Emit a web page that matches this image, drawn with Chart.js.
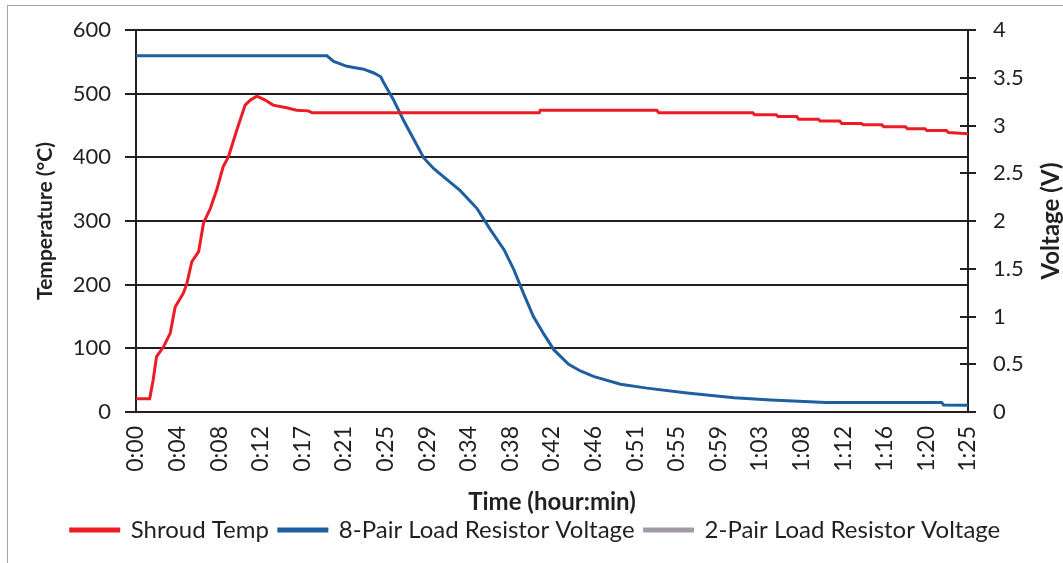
<!DOCTYPE html>
<html>
<head>
<meta charset="utf-8">
<script src="https://cdn.jsdelivr.net/npm/chart.js@4"></script>
<style>
  html, body { margin: 0; padding: 0; background: #fff; }
  #wrap { position: relative; width: 1063px; height: 563px; }
  #frame { position: absolute; left: 7px; top: 5px; width: 1070px; height: 570px; border: 1.5px solid #a6a6a6; box-sizing: border-box; pointer-events: none; }
  canvas { position: absolute; left: 0; top: 0; }
</style>
</head>
<body>
<div id="wrap">
  <canvas id="myChart" width="1063" height="563"></canvas>
  <div id="frame"></div>
</div>
<script>
// time in minutes
const tempTime = [0, 1.4, 1.75, 2.1, 2.8, 3.5, 4.0, 4.85, 5.2, 5.7, 6.4, 6.9, 7.6, 8.25, 8.9, 9.45, 10.3, 11.15, 11.7, 12.35, 13.2, 14.0, 15.4, 16.4, 17.6, 18.0, 41.2, 41.3, 53.2, 53.4, 63.0, 63.2, 65.4, 65.6, 67.5, 67.7, 69.7, 69.9, 71.9, 72.1, 74.1, 74.3, 76.2, 76.4, 78.6, 78.8, 80.6, 80.8, 82.8, 83.0, 85];
const tempValues = [21, 21, 50, 87, 102, 124, 165, 187, 202, 236, 252, 297, 320, 349, 385, 401, 443, 482, 490, 496, 490, 482, 478, 474, 473, 470, 470, 474, 474, 470, 470, 467, 467, 464, 464, 460, 460, 457, 457, 453, 453, 451, 451, 448, 448, 445, 445, 442, 442, 439, 437];

const voltTime = [0, 19.5, 20.2, 21.55, 23.25, 24.3, 25.0, 25.3, 26.3, 27.3, 28.4, 29.4, 30.4, 31.8, 33.1, 34.85, 36.2, 37.6, 38.6, 39.6, 40.6, 41.7, 42.7, 44.2, 45.4, 46.8, 49.5, 52.2, 56.3, 61.1, 64.85, 70.5, 82.3, 82.5, 85];
const voltValues = [3.73, 3.73, 3.67, 3.62, 3.59, 3.55, 3.51, 3.45, 3.27, 3.06, 2.85, 2.66, 2.55, 2.43, 2.32, 2.13, 1.91, 1.70, 1.49, 1.24, 1.00, 0.81, 0.65, 0.50, 0.43, 0.37, 0.29, 0.25, 0.20, 0.15, 0.125, 0.10, 0.10, 0.073, 0.07];

// 2-pair series shows nothing in the plot
const twoPairTime = [];
const twoPairValues = [];

const tickPositions = [0, 4.25, 8.5, 12.75, 17, 21.25, 25.5, 29.75, 34, 38.25, 42.5, 46.75, 51, 55.25, 59.5, 63.75, 68, 72.25, 76.5, 80.75, 85];
const tickLabels = ['0:00', '0:04', '0:08', '0:12', '0:17', '0:21', '0:25', '0:29', '0:34', '0:38', '0:42', '0:46', '0:51', '0:55', '0:59', '1:03', '1:08', '1:12', '1:16', '1:20', '1:25'];

const toPoints = (xs, ys) => xs.map((x, i) => ({ x: x, y: ys[i] }));

const FONT = 'Lato, "Open Sans", sans-serif';
const INK = '#231f20';

// right axis: tick marks crossing the axis, and a title that reads bottom-to-top
const voltExtras = {
  id: 'voltExtras',
  afterDraw(chart) {
    const c = chart.ctx;
    const a = chart.chartArea;
    const s = chart.scales.y2;
    c.save();
    c.strokeStyle = INK;
    c.lineWidth = 2;
    s.ticks.forEach(t => {
      const y = Math.round(s.getPixelForValue(t.value));
      c.beginPath();
      c.moveTo(a.right - 8, y);
      c.lineTo(a.right + 8, y);
      c.stroke();
    });
    c.translate(1051, (a.top + a.bottom) / 2);
    c.rotate(-Math.PI / 2);
    c.font = 'bold 24px ' + FONT;
    c.fillStyle = INK;
    c.textAlign = 'center';
    c.textBaseline = 'middle';
    c.fillText('Voltage (V)', 0, 0);
    c.restore();
  }
};

new Chart(document.getElementById('myChart'), {
  type: 'line',
  data: {
    datasets: [{
      label: 'Shroud Temp',
      data: toPoints(tempTime, tempValues),
      borderColor: '#ed1c24',
      backgroundColor: '#ed1c24',
      borderWidth: 3,
      pointRadius: 0,
      yAxisID: 'y'
    }, {
      label: '8-Pair Load Resistor Voltage',
      data: toPoints(voltTime, voltValues),
      borderColor: '#1f5fa0',
      backgroundColor: '#1f5fa0',
      borderWidth: 3,
      pointRadius: 0,
      yAxisID: 'y2'
    }, {
      label: '2-Pair Load Resistor Voltage',
      data: toPoints(twoPairTime, twoPairValues),
      borderColor: '#a39aa8',
      backgroundColor: '#a39aa8',
      borderWidth: 3,
      pointRadius: 0,
      yAxisID: 'y2'
    }]
  },
  options: {
    responsive: false,
    animation: false,
    layout: { padding: { left: 8, right: 0, top: 30, bottom: 11 } },
    plugins: {
      tooltip: { enabled: false },
      legend: {
        position: 'bottom',
        labels: {
          font: { family: FONT, size: 24 },
          color: INK,
          boxWidth: 48,
          boxHeight: 2,
          padding: 10
        }
      }
    },
    scales: {
      x: {
        type: 'linear',
        min: 0,
        max: 85,
        afterBuildTicks: s => { s.ticks = tickPositions.map(v => ({ value: v })); },
        afterFit: s => { s.height = 96; },
        grid: { display: false },
        border: { display: true, color: INK, width: 2 },
        ticks: {
          autoSkip: false,
          maxRotation: 90,
          minRotation: 90,
          padding: 6,
          color: INK,
          font: { family: FONT, size: 23 },
          callback: (v, i) => tickLabels[i]
        },
        title: {
          display: true,
          text: 'Time (hour:min)',
          color: INK,
          font: { family: FONT, size: 24, weight: 'bold', lineHeight: 0.45 },
          padding: { top: 0, bottom: 0 }
        }
      },
      y: {
        position: 'left',
        min: 0,
        max: 600,
        afterFit: s => { s.width = 128; },
        grid: { color: INK, lineWidth: 2, tickLength: 11 },
        border: { color: INK, width: 2 },
        ticks: {
          stepSize: 100,
          padding: 14,
          color: INK,
          font: { family: FONT, size: 22 }
        },
        title: {
          display: true,
          text: 'Temperature (°C)',
          color: INK,
          font: { family: FONT, size: 21, weight: 'bold' },
          padding: { top: 25, bottom: 0 }
        }
      },
      y2: {
        position: 'right',
        min: 0,
        max: 4,
        afterFit: s => { s.width = 95; },
        grid: { drawOnChartArea: false, tickColor: 'rgba(0,0,0,0)', tickLength: 17 },
        border: { color: INK, width: 2 },
        ticks: {
          stepSize: 0.5,
          padding: 8,
          color: INK,
          font: { family: FONT, size: 22 },
          callback: v => String(Number(v.toFixed(1)))
        }
      }
    }
  },
  plugins: [voltExtras]
});
</script>
</body>
</html>
